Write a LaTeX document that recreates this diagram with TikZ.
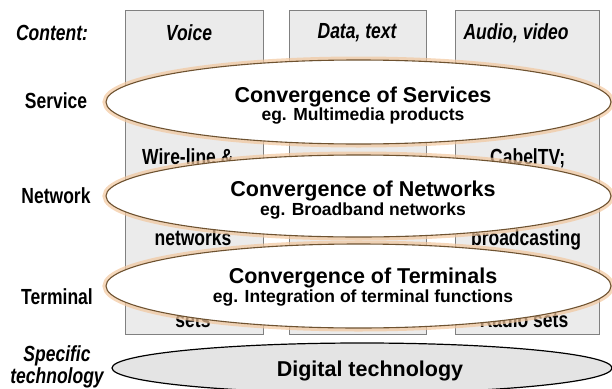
\documentclass[tikz,border=0pt]{standalone}
\usepackage{fontspec}
\setmainfont{Liberation Sans}
\usetikzlibrary{shapes.geometric}
\definecolor{colfill}{HTML}{EBEBEB}
\definecolor{colline}{HTML}{808080}
\definecolor{rim}{HTML}{6E5230}
\definecolor{halo}{HTML}{F2C79E}
\definecolor{digfill}{HTML}{E4E4E4}
\newcommand{\lblfont}{\bfseries\fontsize{17.5}{19}\selectfont}
\newcommand{\ttlfont}{\bfseries\fontsize{21.5}{24}\selectfont}
% narrow, tall lettering for the labels
\newcommand{\tall}[1]{\scalebox{1}[1.25]{#1}}
\begin{document}
\begin{tikzpicture}[x=1pt,y=-1pt,
  column/.style={draw=colline, fill=colfill, line width=0.8pt, inner sep=0pt},
  rowlabel/.style={font=\lblfont, inner sep=0pt},
  headlabel/.style={font=\lblfont\itshape, inner sep=0pt},
  celltext/.style={font=\lblfont, inner sep=0pt, anchor=base},
  conv/.style={ellipse, draw=rim, line width=1.1pt, fill=white, inner sep=0pt,
    minimum width=505pt, minimum height=84pt,
    preaction={draw=halo, line width=7pt, draw opacity=0.7}},
  digital/.style={ellipse, draw=black, line width=1.2pt, fill=digfill, inner sep=0pt,
    minimum width=500pt, minimum height=50pt},
  convtitle/.style={font=\ttlfont, inner sep=0pt, anchor=base},
  convsub/.style={font=\lblfont, inner sep=0pt, anchor=base}]
\useasboundingbox (0,0) rectangle (612,388);
\clip (0,0) rectangle (612,388);

% content columns
\node[column, minimum width=138pt, minimum height=324pt] (c1) at (194,172) {};
\node[column, minimum width=137pt, minimum height=324pt] (c2) at (357.5,172) {};
\node[column, minimum width=144pt, minimum height=324pt] (c3) at (527,172) {};

% column headings
\node[headlabel] (hcontent) at (52,33) {\tall{Content:}};
\node[headlabel] (hvoice) at (189,33) {\tall{Voice}};
\node[headlabel] (hdata) at (357,33) {\tall{Data, text}};
\node[headlabel] (haudio) at (516,33) {\tall{Audio, video}};

% row labels
\node[rowlabel] (rservice) at (56,101) {\tall{Service}};
\node[rowlabel] (rnetwork) at (56,196) {\tall{Network}};
\node[rowlabel] (rterminal) at (57,297) {\tall{Terminal}};
\node[headlabel, anchor=base] (rtech1) at (57,361) {\tall{Specific}};
\node[headlabel, anchor=base] (rtech2) at (57,383) {\tall{technology}};

% cell entries partly covered by the ellipses
\node[celltext, anchor=base west] (t1) at (142,164) {\tall{Wire-line \&}};
\node[celltext] (t2) at (193,245) {\tall{networks}};
\node[celltext] (t3) at (193,327) {\tall{sets}};
\node[celltext, anchor=base west] (t4) at (490,164) {\tall{CabelTV;}};
\node[celltext] (t5) at (526,245) {\tall{broadcasting}};
\node[celltext] (t6) at (524,327) {\tall{Radio sets}};

% convergence ellipses
\node[conv] (eservice) at (358.5,102) {};
\node[conv, minimum height=82pt] (enetwork) at (358.5,196) {};
\node[conv] (eterminal) at (358.5,286) {};
\node[digital] (edigital) at (362,368) {};

\node[convtitle] (ts) at (363,102) {Convergence of Services};
\node[convsub] (ss) at (363,120) {eg. Multimedia products};
\node[convtitle] (tn) at (363,196) {Convergence of Networks};
\node[convsub] (sn) at (363,215) {eg. Broadband networks};
\node[convtitle] (tt) at (363,283) {Convergence of Terminals};
\node[convsub] (st) at (363,302) {eg. Integration of terminal functions};
\node[convtitle] (td) at (370,376) {Digital technology};
\end{tikzpicture}
\end{document}
